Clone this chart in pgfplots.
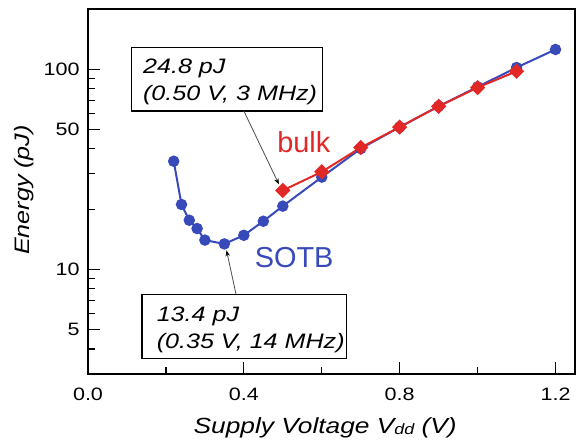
\documentclass[border=0pt]{standalone}
\usepackage{pgfplots}
\pgfplotsset{compat=1.18}
\usepackage{fontspec}
\setmainfont{Liberation Sans}[FakeStretch=1.2]
\newfontfamily\lblfont{Liberation Sans}
\usetikzlibrary{arrows.meta}
\definecolor{sotb}{RGB}{56,74,186}
\definecolor{bulkred}{RGB}{226,40,38}
\begin{document}
\begin{tikzpicture}
\begin{axis}[
    scale only axis, width=487bp, height=365bp,
    xmin=0, xmax=1.25,
    ymode=log, ymin=3, ymax=200,
    axis line style={line width=2.6bp},
    xtick={0,0.4,0.8,1.2}, xticklabels={0.0,0.4,0.8,1.2},
    minor xtick={0.2,0.6,1.0},
    ytick={5,10,50,100}, yticklabels={5,10,50,100},
    minor ytick={4,6,7,8,9,20,30,40,60,70,80,90},
    tick align=inside, xtick pos=bottom, ytick pos=left,
    major tick length=12bp, minor tick length=7bp,
    tick style={black, line width=1.2bp},
    ticklabel style={font=\fontsize{18}{18}\selectfont},
    /pgf/number format/assume math mode=true,
    xticklabel style={yshift=-10bp},
    yticklabel style={xshift=-5bp},
    xlabel={Supply Voltage V{\fontsize{15}{15}\selectfont\raisebox{-1bp}{dd}} (V)},
    ylabel={Energy (pJ)},
    xlabel style={font=\itshape\fontsize{22}{22}\selectfont, at={(axis description cs:0.487,-0.162)}, anchor=base},
    ylabel style={font=\itshape\fontsize{21}{21}\selectfont, at={(axis description cs:-0.121,0.504)}, anchor=base},
    clip=false,
]
% SOTB
\addplot[sotb, line width=2bp, mark=*, mark size=4.7bp, mark options={fill=sotb, draw=sotb}] coordinates {
    (0.22,34.7) (0.24,21.1) (0.26,17.6) (0.28,16.0) (0.30,14.0)
    (0.35,13.4) (0.40,14.8) (0.45,17.4) (0.50,20.7) (0.60,28.9)
    (0.70,40.1) (0.80,51.4) (0.90,65.3) (1.00,81.6) (1.10,102)
    (1.20,125.5)
};
% bulk
\addplot[bulkred, line width=2bp, mark=square*, mark size=4.4bp, mark options={fill=bulkred, draw=bulkred, rotate=45}] coordinates {
    (0.50,24.8) (0.60,30.7) (0.70,40.6) (0.80,51.4) (0.90,65.3)
    (1.00,81.0) (1.10,97.7)
};

% annotation boxes
\draw[line width=1.5bp] (axis cs:0.112,61.9) rectangle (axis cs:0.602,128.4);
\node[anchor=base west, inner sep=0pt, font=\itshape\fontsize{21}{21}\selectfont] at (axis cs:0.141,95.2) {24.8 pJ};
\node[anchor=base west, inner sep=0pt, font=\itshape\fontsize{21}{21}\selectfont] at (axis cs:0.141,70.0) {(0.50 V, 3 MHz)};
\draw[gray!60!black, line width=0.8bp, -{Stealth[black, length=6bp, width=4.5bp]}] (axis cs:0.400,61.9) -- (axis cs:0.490,26.6);

\draw[line width=1.5bp] (axis cs:0.139,3.59) rectangle (axis cs:0.664,7.50);
\node[anchor=base west, inner sep=0pt, font=\itshape\fontsize{21}{21}\selectfont] at (axis cs:0.176,5.51) {13.4 pJ};
\node[anchor=base west, inner sep=0pt, font=\itshape\fontsize{21}{21}\selectfont] at (axis cs:0.176,4.01) {(0.35 V, 14 MHz)};
\draw[gray!60!black, line width=0.8bp, -{Stealth[black, length=6bp, width=4.5bp]}] (axis cs:0.380,7.50) -- (axis cs:0.3555,12.45);

% series labels
\node[font=\lblfont\fontsize{29}{29}\selectfont, text=bulkred] at (axis cs:0.554,43.2) {bulk};
\node[font=\lblfont\fontsize{29}{29}\selectfont, text=sotb] at (axis cs:0.529,11.4) {SOTB};
\end{axis}
\pgfresetboundingbox
\path ([shift={(-88bp,-69bp)}]current axis.south west) rectangle ([shift={(2bp,9bp)}]current axis.north east);
\end{tikzpicture}
\end{document}
